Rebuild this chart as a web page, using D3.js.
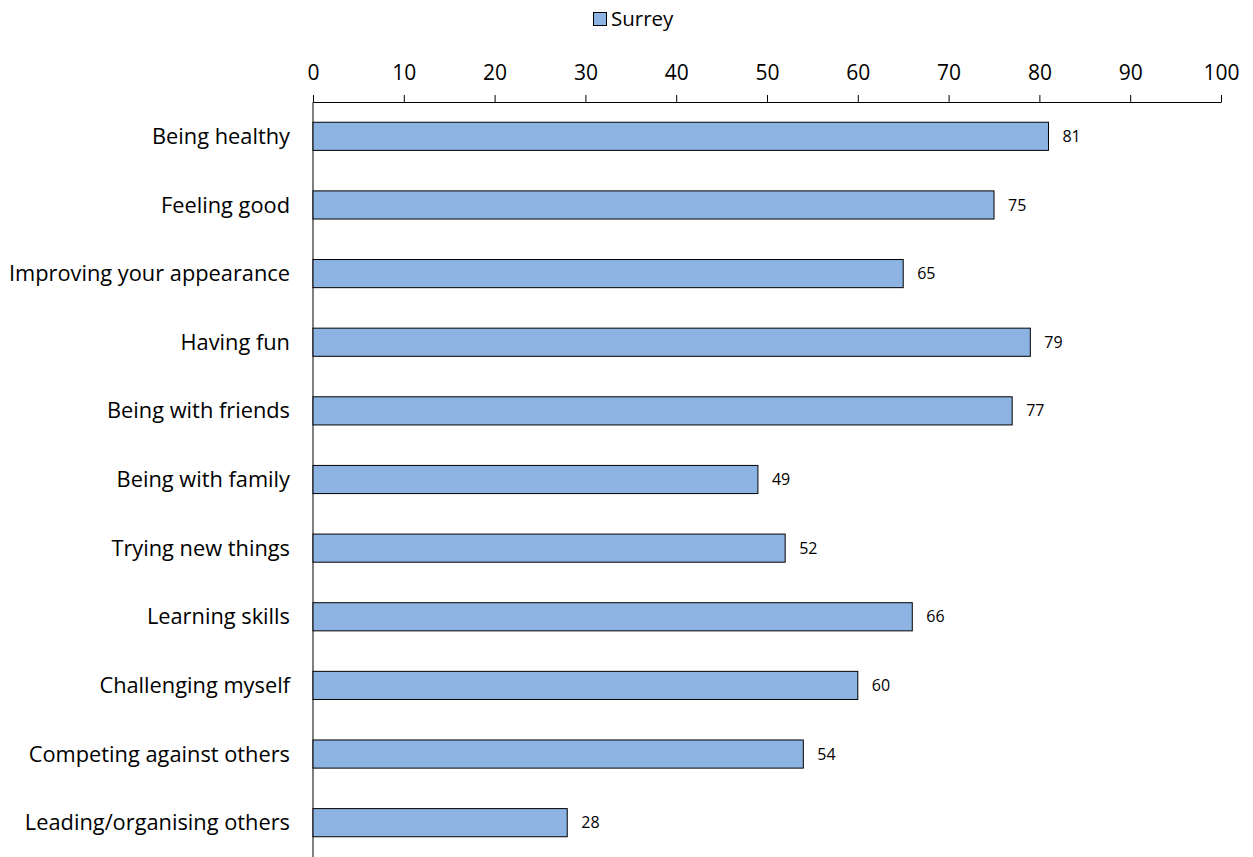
<!DOCTYPE html>
<html><head><meta charset="utf-8">
<script src="https://cdn.jsdelivr.net/npm/d3@7"></script>
<style>body{margin:0;background:#fff}svg{display:block}text{font-family:"Open Sans",sans-serif;fill:#000}</style>
</head><body>
<script>
const categories = ["Being healthy","Feeling good","Improving your appearance","Having fun","Being with friends","Being with family","Trying new things","Learning skills","Challenging myself","Competing against others","Leading/organising others"];
const values = [81,75,65,79,77,49,52,66,60,54,28];
const seriesName = "Surrey";
const xTicks = [0,10,20,30,40,50,60,70,80,90,100];

const W=1253,H=857;
const svg=d3.select("body").append("svg").attr("width",W).attr("height",H);
const x=d3.scaleLinear().domain([0,100]).range([313,1221]);
const y=d3.scaleBand().domain(categories).range([102,857]).paddingInner(0.59).paddingOuter(0.295);

const ax=svg.append("g").attr("transform","translate(0,102)")
  .call(d3.axisTop(x).tickValues(xTicks).tickSize(7).tickSizeOuter(0).tickPadding(15));
ax.select(".domain").attr("stroke","#000");
ax.selectAll(".tick line").attr("stroke","#000");
ax.selectAll(".tick text").style("font-size","21px").style("font-family","'Open Sans',sans-serif");

svg.append("line").attr("x1",313).attr("x2",313).attr("y1",102).attr("y2",857).attr("stroke","#000");

svg.selectAll("rect.bar").data(values).join("rect").attr("class","bar")
  .attr("x",x(0)).attr("y",(d,i)=>y(categories[i]))
  .attr("width",d=>x(d)-x(0)).attr("height",y.bandwidth())
  .attr("fill","#8DB3E2").attr("stroke","#000").attr("stroke-width",1);

svg.selectAll("text.val").data(values).join("text").attr("class","val")
  .attr("x",d=>x(d)+14).attr("y",(d,i)=>y(categories[i])+y.bandwidth()/2)
  .attr("dy","0.35em").style("font-size","16px").text(d=>d);

svg.selectAll("text.cat").data(categories).join("text").attr("class","cat")
  .attr("x",290).attr("y",d=>y(d)+y.bandwidth()/2).attr("dy","0.35em")
  .attr("text-anchor","end").style("font-size","21.8px").text(d=>d);

svg.append("rect").attr("x",593.5).attr("y",12.5).attr("width",13).attr("height",13)
  .attr("fill","#8DB3E2").attr("stroke","#000");
svg.append("text").attr("x",611).attr("y",19).attr("dy","0.35em").style("font-size","20.5px").text(seriesName);
</script>
</body></html>
